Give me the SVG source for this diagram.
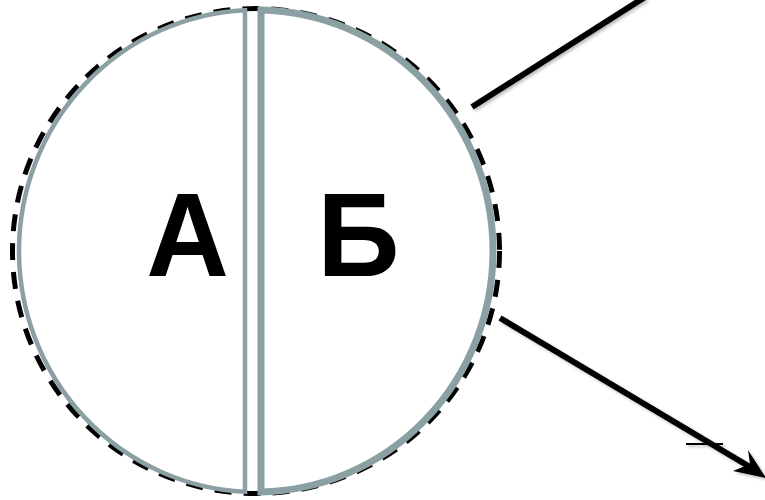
<svg xmlns="http://www.w3.org/2000/svg" width="765" height="500" viewBox="0 0 765 500">
<defs>
<filter id="sh" x="-10%" y="-10%" width="120%" height="120%">
<feDropShadow dx="2" dy="2" stdDeviation="1.5" flood-color="#000" flood-opacity="0.25"/>
</filter>
</defs>
<style>
.half{fill:#fff;stroke:#8aa0a3;stroke-linejoin:miter}
.conn{stroke:#000;stroke-width:6;fill:none;stroke-linecap:butt}
.lbl{font-family:"Liberation Sans",Arial,sans-serif;font-weight:bold;font-size:118px;fill:#000;text-anchor:middle}
</style>
<rect width="765" height="500" fill="#fff"/>
<g id="outline">
<ellipse cx="256" cy="251" rx="243.5" ry="242.5" fill="none" stroke="#000" stroke-width="5" stroke-dasharray="17,12"/>
</g>
<g id="nodeA">
<path class="half" stroke-width="4.5" d="M245,10.3 A237,241 0 0 0 19,251 A237,241 0 0 0 245,491.7 Z"/>
<text class="lbl" x="187.5" y="276" transform="translate(187.5 0) scale(0.97 1) translate(-187.5 0)">А</text>
</g>
<g id="nodeB">
<path class="half" stroke-width="7" d="M261,10 A237,241 0 0 1 493,251 A237,241 0 0 1 261,492 Z"/>
<text class="lbl" x="358.5" y="276" transform="translate(358.5 0) scale(0.97 1) translate(-358.5 0)">Б</text>
</g>
<g id="connectors" filter="url(#sh)">
<line class="conn" x1="472" y1="107" x2="645" y2="-3"/>
<line class="conn" x1="500" y1="318" x2="750" y2="467"/>
<polygon points="766,478 748,450 750,464 733,471" fill="#000"/>
<line x1="686" y1="444" x2="723" y2="444" stroke="#000" stroke-width="2"/>
</g>
</svg>
